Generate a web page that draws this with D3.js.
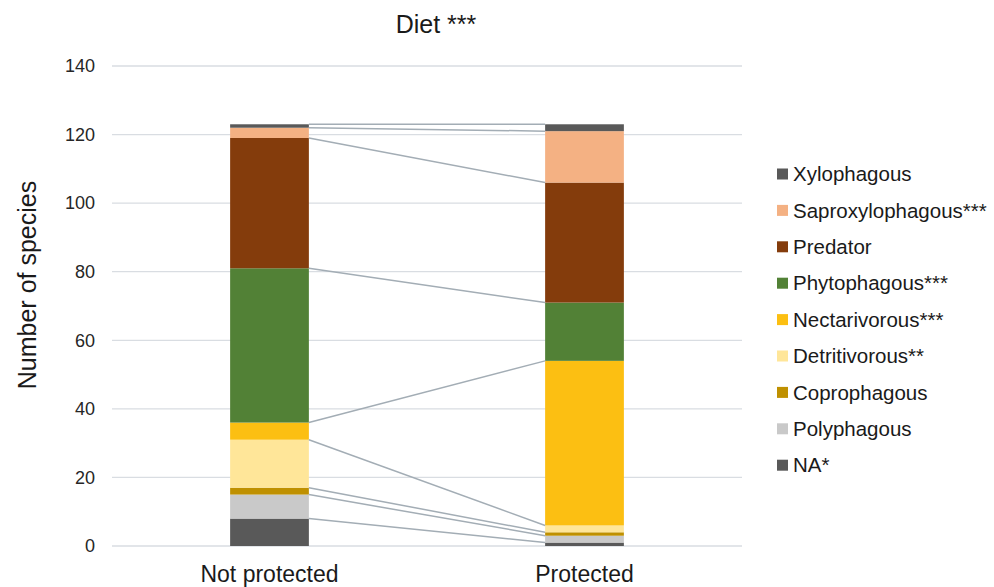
<!DOCTYPE html>
<html>
<head>
<meta charset="utf-8">
<script src="https://cdn.jsdelivr.net/npm/d3@7"></script>
<style>
  body { margin: 0; background: #fff; }
  text { font-family: "Liberation Sans", Arial, sans-serif; }
</style>
</head>
<body>
<div id="chart"></div>
<script>
// data, bottom to top of each stack
const groups = ["Not protected", "Protected"];
const diets = ["NA*", "Polyphagous", "Coprophagous", "Detritivorous**", "Nectarivorous***",
               "Phytophagous***", "Predator", "Saproxylophagous***", "Xylophagous"];
const notProtected = [8, 7, 2, 14, 5, 45, 38, 3, 1];
const protectedVals = [1, 2, 1, 2, 48, 17, 35, 15, 2];
const colors = ["#595959", "#c9c9c9", "#bf9000", "#ffe699", "#fcbf12",
                "#528136", "#843c0c", "#f4b183", "#595959"];
const yTicks = [0, 20, 40, 60, 80, 100, 120, 140];

const W = 994, H = 587;
const margin = { top: 66, right: 252, bottom: 41, left: 112 };
const width = W - margin.left - margin.right,
      height = H - margin.top - margin.bottom;

const svg = d3.select("#chart").append("svg")
    .attr("width", W).attr("height", H);
const g = svg.append("g")
    .attr("transform", `translate(${margin.left},${margin.top})`);

const x = d3.scaleBand().domain(groups).range([0, width])
    .paddingInner(0.75).paddingOuter(0.375);
const y = d3.scaleLinear().domain([0, 140]).range([height, 0]);

// gridlines
g.selectAll(".grid").data(yTicks).join("line")
    .attr("x1", 0).attr("x2", width)
    .attr("y1", d => y(d)).attr("y2", d => y(d))
    .attr("stroke", "#d9dde2").attr("stroke-width", 1.3);

// y tick labels
g.selectAll(".ytick").data(yTicks).join("text")
    .attr("x", -17).attr("y", d => y(d)).attr("dy", "0.35em")
    .attr("text-anchor", "end").attr("fill", "#262626")
    .style("font-size", "18px").text(d => d);

// stacking
const table = diets.map((d, i) => ({ key: d, "Not protected": notProtected[i], "Protected": protectedVals[i] }));
const stacked = groups.map(grp => {
  let acc = 0;
  return diets.map((d, i) => {
    const v = table[i][grp];
    const seg = { grp, key: d, i, y0: acc, y1: acc + v };
    acc += v;
    return seg;
  });
});

// bars
stacked.forEach(segs => {
  g.selectAll(null).data(segs).join("rect")
    .attr("x", d => x(d.grp))
    .attr("width", x.bandwidth())
    .attr("y", d => y(d.y1))
    .attr("height", d => y(d.y0) - y(d.y1))
    .attr("fill", d => colors[d.i]);
});

// series lines
g.selectAll(".series").data(diets).join("line")
    .attr("x1", x(groups[0]) + x.bandwidth())
    .attr("x2", x(groups[1]))
    .attr("y1", (d, i) => y(stacked[0][i].y1))
    .attr("y2", (d, i) => y(stacked[1][i].y1))
    .attr("stroke", "#a3adb5").attr("stroke-width", 1.5);

// category labels
g.selectAll(".xlab").data(groups).join("text")
    .attr("x", d => x(d) + x.bandwidth() / 2)
    .attr("y", height + 36)
    .attr("text-anchor", "middle").attr("fill", "#1a1a1a")
    .style("font-size", "23px").text(d => d);

// title
svg.append("text")
    .attr("x", 436).attr("y", 33)
    .attr("text-anchor", "middle").attr("fill", "#1a1a1a")
    .style("font-size", "25px").text("Diet ***");

// y axis title
svg.append("text")
    .attr("transform", `translate(36,285) rotate(-90)`)
    .attr("text-anchor", "middle").attr("fill", "#1a1a1a")
    .style("font-size", "25px").text("Number of species");

// legend, top to bottom reversed
const legendItems = diets.map((d, i) => ({ d, c: colors[i] })).reverse();
const legend = svg.append("g").attr("transform", "translate(777,174)");
const row = legend.selectAll("g").data(legendItems).join("g")
    .attr("transform", (d, i) => `translate(0,${i * 36.4})`);
row.append("rect").attr("x", 0).attr("y", -5.5).attr("width", 11).attr("height", 11)
    .attr("fill", d => d.c);
row.append("text").attr("x", 16).attr("y", 0).attr("dy", "0.35em")
    .attr("fill", "#1a1a1a").style("font-size", "20.5px").text(d => d.d);
</script>
</body>
</html>
